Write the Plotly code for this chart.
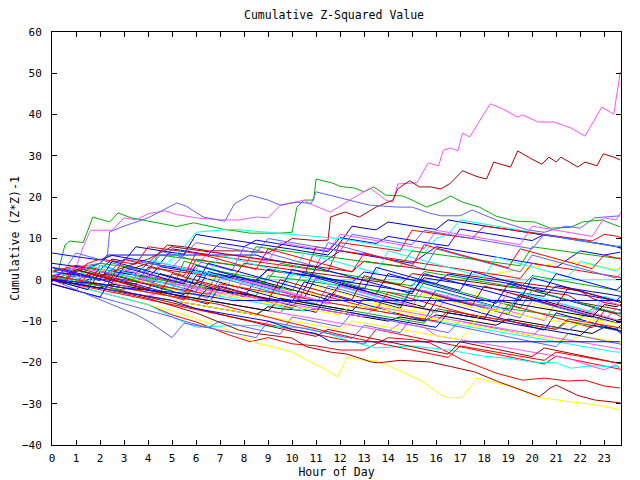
import plotly.graph_objects as go

# ---------------- colours ----------------
RED = "#ff0000"
GREEN = "#00b000"
BLUE = "#0000ff"
NAVY = "#0000b0"
LBLUE = "#6060ff"
MAG = "#ff50ff"
CYAN = "#00ffff"
DRED = "#a80000"
YEL = "#ffff00"
BLK = "#000000"

# half-hour grid used by most series
hours = [h / 2 for h in range(48)] + [23.7]

# ---------------- prominent series (own x) ----------------
mag_top_x = [0, 0.5, 1.0, 1.3, 1.6, 2.5, 3, 3.5, 4, 4.7, 5.2, 6, 7, 7.8, 8.5, 9, 9.5, 10.5, 10.7, 11.6,
             12.4, 13.25, 13.9, 14.2, 14.4, 15.2, 15.67, 16.1, 16.3, 16.6, 16.9, 17.1, 17.4, 18.25, 18.7,
             19.4, 19.6, 20.25, 20.9, 21.6, 22.2, 22.9, 23.4, 23.67]
mag_top_y = [0, 1, 3, 8, 12, 12, 15, 14.5, 16, 16.7, 15.8, 15, 14.5, 14.5, 15.2, 15, 18, 19.3, 18.5, 16.4,
             19.3, 22.2, 19.3, 18.8, 23.2, 23.5, 28.3, 27.6, 31.4, 31.9, 31.2, 35.5, 34.6, 42.6, 41.6,
             39.4, 39.9, 38.2, 38.2, 36.8, 34.8, 41.8, 40.1, 50.3]

dred_top_x = [0, 1, 2, 3, 4, 4.8, 5.5, 6.5, 8, 9, 10, 11, 11.5, 11.6, 12.2, 12.8, 13.5, 14.2, 14.4, 14.9,
              15.3, 15.75, 16.2, 16.6, 17.1, 17.7, 18.1, 18.4, 19.1, 19.4, 19.9, 20.4, 20.7, 21, 21.2,
              21.9, 22.2, 22.7, 22.96, 23.4, 23.67]
dred_top_y = [0, -1, 1, 2, 4, 8.4, 8, 7, 7, 6.5, 10, 9.5, 9.6, 15.2, 16.4, 15.2, 17.6, 19.3, 22, 24,
              22.5, 22.5, 22, 23.4, 26.4, 25, 24.4, 28.5, 27.3, 31.2, 29.5, 28, 29.7, 28.5, 29.7,
              27.3, 28.5, 27.6, 30.5, 29.7, 29]

green_top_x = [0, 0.3, 0.54, 0.75, 1.3, 1.7, 2.4, 2.75, 3.3, 4.4, 5.2, 5.9, 6.6, 7.1, 8.25, 9.5, 10,
               10.2, 10.5, 10.9, 11, 11.5, 11.7, 12, 12.6, 13, 13.4, 13.9, 14.6, 15, 15.6, 16.2, 16.6,
               17.1, 17.8, 18.5, 19.3, 20.1, 20.75, 21.6, 22.1, 22.9, 23.67]
green_top_y = [2, 3, 8.4, 9.4, 9, 15.2, 14, 16.2, 15, 13.8, 12.9, 13.8, 13, 12.3, 11.3, 11.3, 11.5,
               17.6, 19.3, 19.3, 24.4, 23.6, 23.4, 22.6, 22.2, 21.3, 22.5, 20.5, 20.3, 19.3, 17.6, 19,
               20.3, 18.8, 17.6, 15.4, 14.2, 14, 12.5, 12.7, 14, 14.5, 12.8]

lblue_top_x = [0, 1, 2, 2.3, 2.4, 3, 4, 5.2, 5.6, 6.3, 7.2, 7.6, 8.25, 9, 9.5, 10.2, 10.8, 11, 11.9,
               13.2, 14.4, 15, 15.7, 16.2, 17, 17.5, 18.5, 19.8, 20.5, 21.4, 22, 22.6, 23.67]
lblue_top_y = [2, 3, 4, 5.5, 11.6, 13, 15, 18.6, 17.8, 15.2, 14.2, 18.4, 20.5, 19.3, 18.1, 18.8, 18.5,
               21.3, 20, 18.1, 17.6, 17.6, 16.2, 15.5, 15.5, 16.9, 14.5, 12.1, 11.5, 13, 12.5, 15, 15.5]

yel_low_x = [0, 1, 2, 3, 4, 5, 6, 7, 7.8, 8.5, 9.2, 10, 10.6, 11.3, 11.9, 12.3, 12.8, 13.5, 14.4,
             15, 15.4, 16.2, 16.6, 17.1, 17.7, 18.5, 19.4, 20.2, 21, 21.7, 22.7, 23.67]
yel_low_y = [0, -1.5, -3, -4.5, -6, -7.5, -9.5, -11.5, -13.4, -15.3, -16.2, -17.5, -19.4, -21.4, -23.5,
             -18.7, -19.4, -19.6, -21.8, -23.5, -24.5, -27.9, -28.6, -28.4, -23.8, -25, -26.2, -28.4,
             -29.1, -29.6, -30.3, -31.5]

dred_low_x = [0, 2, 4, 6, 7.8, 8.5, 10, 10.6, 11.6, 12.3, 13.3, 13.6, 14.5, 15.75, 16.6, 17.6, 18.6,
              19.5, 20.3, 20.75, 21, 21.4, 21.9, 22.6, 23.4, 23.67]
dred_low_y = [0, -2, -4.5, -8, -12.2, -13, -14.1, -16.2, -17.5, -18, -19.9, -20.1, -19.5, -19.9, -21,
              -22.3, -24.7, -26.6, -28.3, -26.2, -25.5, -26.6, -28, -29.1, -29.6, -29.8]

red_low_x = [0, 2, 4, 5, 6, 7.4, 8.25, 9, 10, 11, 12, 13, 14, 15, 15.75, 17.1, 18.5, 19.6, 20.5, 21.5,
             22.2, 23, 23.67]
red_low_y = [0, -3, -6, -8.5, -10.2, -13.4, -15, -14, -15.5, -16, -17, -17, -14, -14.5, -15.3, -19.4,
             -22.6, -24.3, -23.8, -24.5, -24.3, -25.7, -26.2]

cyan_low_x = [0, 1, 2, 3, 4, 5, 6, 7.8, 9, 10.6, 11.5, 12.5, 13.5, 15, 16.5, 18, 19, 20, 21, 21.6,
              22.5, 23.67]
cyan_low_y = [0, -1.5, -3, -4.5, -6, -9, -11.5, -11, -11.2, -11.7, -13, -15, -16.5, -16, -17, -18.5,
              -19, -19.9, -20.1, -21.4, -20.8, -21.1]

# series with flat (held) stretches
blue_flat6_x = [0, 1, 2, 2.3, 8.5, 9, 10, 11, 12, 13, 14, 15, 16, 17, 18, 19, 20, 21, 22, 23, 23.67]
blue_flat6_y = [1, 2, 4, 6, 6, 5, 4, 3, 7, 6, 5, 4, 8, 7, 6, 5, 4, 3, 7, 6, 6.7]
blue_flat5_x = [0, 1, 2, 3, 4, 5, 6, 7, 7.5, 23.67]
blue_flat5_y = [0, -0.5, -1, -2, -2.5, -3, -3.5, -4.5, -5, -5]
blue_flat15_x = [0, 1, 2, 3, 4, 5, 6, 7, 8, 9, 10, 11, 11.6, 23.67]
blue_flat15_y = [0, -1, -2, -3, -4, -5, -7, -8, -9, -10, -12, -13, -15, -15]
cyan_flat0_x = [0, 0.3, 23.67]
cyan_flat0_y = [1, 0, 0]

# ---------------- filler series on the half-hour grid ----------------
blue_1 = [6.5, 6.0, 5.6, 5.2, 4.8, 5.9, 5.4, 4.9, 4.4, 3.9, 7.5, 7.0, 6.6, 6.1, 8.9, 8.4,
          8.0, 9.6, 9.1, 8.6, 8.2, 7.7, 7.3, 6.8, 10.2, 9.7, 9.3, 8.8, 10.5, 10.0, 9.5, 9.1,
          8.6, 8.2, 12.3, 11.8, 11.4, 10.9, 10.4, 10.0, 9.5, 11.0, 10.5, 10.0, 9.6, 9.1, 8.6, 8.1, 7.6]
blue_2 = [1.0, 0.2, -0.6, -1.4, 3.5, 2.7, 1.9, 1.1, 0.3, -0.5, -1.3, -2.1, -2.9, 2.0, 1.2, 0.4,
          -0.4, -1.2, -2.0, -2.8, -3.6, -4.4, 0.5, -0.3, -1.1, -1.9, -2.7, -3.5, 1.5, 0.7, -0.1, -0.9,
          -1.7, -2.5, -3.3, -4.1, -4.9, -5.7, -1.0, -1.8, -2.6, -3.4, -4.2, -5.0, -5.8, -6.6, -7.4, -8.2, -8.0]
blue_3 = [2.0, 1.6, 1.2, 0.8, 2.5, 2.0, 1.6, 1.1, 0.7, 3.2, 2.7, 2.2, 1.8, 1.3, 0.9, 0.4,
          0.0, -0.4, 2.6, 2.1, 1.7, 1.2, 0.8, 0.3, -0.1, -0.6, 1.9, 1.4, 1.0, 0.5, 0.0, -0.4,
          -0.9, 1.4, 0.9, 0.5, 0.0, -0.4, -0.9, -1.3, -1.8, -2.2, -2.7, -3.1, -3.6, -4.0, -4.5, -5.0, -5.3]
blue_4 = [-1.0, -1.8, -2.6, -3.4, -4.2, 0.5, -0.3, -1.1, -1.9, -2.7, -3.5, -4.3, -5.1, -5.9, -1.5, -2.3,
          -3.1, -3.9, -4.7, -5.5, -6.3, -7.1, -7.9, -3.5, -4.3, -5.1, -5.9, -6.7, -7.5, -8.3, -9.1, -9.9,
          -5.0, -5.8, -6.6, -7.4, -8.2, -9.0, -9.8, -10.6, -11.4, -12.2, -8.0, -8.8, -9.6, -10.4, -11.2, -12.0, -13.0]
blue_5 = [3.0, 2.2, 1.4, 0.6, -0.2, 4.5, 3.7, 2.9, 2.1, 1.3, 0.5, -0.3, -1.1, 4.0, 3.2, 2.4,
          1.6, 0.8, 0.0, -0.8, -1.6, -2.4, 3.0, 2.2, 1.4, 0.6, -0.2, -1.0, -1.8, -2.6, -3.4, 1.5,
          0.7, -0.1, -0.9, -1.7, -2.5, -3.3, -4.1, -4.9, 0.5, -0.3, -1.1, -1.9, -2.7, -3.5, -4.3, -5.1, -4.0]
blue_6 = [-0.5, 2.5, 1.7, 0.9, 0.1, -0.7, 3.0, 2.2, 1.4, 0.6, -0.2, -1.0, 3.5, 2.7, 1.9, 1.1,
          0.3, -0.5, -1.3, -2.1, 2.5, 1.7, 0.9, 0.1, -0.7, -1.5, -2.3, 3.0, 2.2, 1.4, 0.6, -0.2,
          -1.0, -1.8, -2.6, 2.0, 1.2, 0.4, -0.4, -1.2, -2.0, -2.8, 1.5, 0.7, -0.1, -0.9, -1.7, -2.5, -1.5]
navy_1 = [4.0, 3.6, 3.2, 2.8, 2.4, 5.0, 4.5, 8.0, 7.5, 7.1, 6.6, 6.2, 11.0, 10.5, 10.1, 9.6,
          9.2, 8.7, 8.3, 7.8, 7.4, 6.9, 6.5, 6.0, 9.0, 13.0, 12.5, 12.1, 14.0, 13.5, 13.1, 12.6,
          12.2, 14.5, 14.0, 13.5, 13.1, 12.6, 12.2, 11.7, 11.3, 10.8, 10.4, 9.9, 9.5, 9.0, 8.6, 8.1, 7.8]
navy_2 = [0.0, -0.8, -1.6, -2.4, 2.0, 1.2, 0.4, -0.4, -1.2, -2.0, -2.8, -3.6, 1.0, 0.2, -0.6, -1.4,
          -2.2, -3.0, -3.8, -4.6, -5.4, -0.5, -1.3, -2.1, -2.9, -3.7, -4.5, -5.3, -6.1, -6.9, -2.0, -2.8,
          -3.6, -4.4, -5.2, -6.0, -6.8, -7.6, -8.4, -4.0, -4.8, -5.6, -6.4, -7.2, -8.0, -8.8, -9.6, -10.4, -10.3]
navy_3 = [2.0, 1.6, 1.2, 0.7, 0.3, 2.5, 2.1, 1.6, 4.0, 3.5, 3.1, 2.6, 2.2, 1.7, 1.3, 0.8,
          0.4, -0.1, 2.5, 2.0, 1.6, 1.1, 0.7, 0.2, -0.2, -0.7, -1.1, -1.6, -2.0, -2.5, -2.9, 0.5,
          0.0, -0.4, -0.9, -1.3, -1.8, -2.2, -2.7, -3.1, -3.6, -4.0, -1.5, -2.0, -2.4, -2.9, -3.3, -3.8, -4.0]
navy_4 = [1.0, 0.5, 0.0, -0.5, -1.0, -1.5, -2.0, -2.5, -3.0, -3.5, -4.0, -4.5, -5.0, -2.0, -2.5, -3.0,
          -3.5, -4.0, -4.5, -5.0, -5.5, -6.0, -6.5, -7.0, -7.5, -8.0, -8.5, -9.0, -9.5, -10.0, -10.5, -11.0,
          -11.5, -8.0, -8.5, -9.0, -9.5, -10.0, -10.5, -11.0, -11.5, -12.0, -12.5, -13.0, -13.5, -11.0, -11.5, -12.0, -12.5]
lblue_2 = [-1.0, -1.8, -2.6, -3.4, -4.2, -5.0, -5.8, -6.6, -7.4, -8.2, -9.0, -10.0, -10.8, -11.6, -10.0, -10.7,
           -11.4, -12.0, -12.6, -13.2, -9.0, -9.6, -10.2, -10.8, -11.4, -8.0, -8.6, -9.2, -9.8, -10.4, -11.0, -11.6,
           -12.2, -12.8, -10.0, -10.6, -11.2, -11.8, -12.4, -13.0, -13.6, -11.0, -11.6, -12.2, -10.5, -11.1, -11.7, -12.3, -12.5]
lblue_3 = [3.0, 2.2, 6.5, 5.7, 4.9, 4.1, 3.3, 2.5, 1.7, 7.0, 6.2, 5.4, 4.6, 3.8, 3.0, 2.2,
           8.0, 7.2, 6.4, 5.6, 4.8, 4.0, 3.2, 9.0, 8.2, 7.4, 6.6, 5.8, 5.0, 4.2, 3.4, 2.6,
           7.5, 6.7, 5.9, 5.1, 4.3, 3.5, 2.7, 1.9, 6.0, 5.2, 4.4, 3.6, 2.8, 2.0, 1.2, 0.4, 1.6]
lblue_4 = [1.0, 0.2, -0.6, -1.4, -2.2, 2.0, 1.2, 0.4, -0.4, -1.2, -2.0, -2.8, -3.6, -4.4, 0.5, -0.3,
           -1.1, -1.9, -2.7, -3.5, -4.3, -5.1, -5.9, -1.5, -2.3, -3.1, -3.9, -4.7, -5.5, -6.3, -2.0, -2.8,
           -3.6, -4.4, -5.2, -6.0, -6.8, -7.6, -8.4, -9.2, -5.0, -5.8, -6.6, -7.4, -8.2, -9.0, -9.8, -7.0, -7.6]
lblue_5 = [0.0, -1.2, -2.4, -3.6, -4.8, -6.0, -7.2, -8.4, -10.0, -12.0, -14.0, -10.5, -11.0, -11.6, -12.2, -12.8,
           -13.4, -14.0, -10.0, -10.6, -11.2, -11.8, -12.4, -13.0, -13.6, -14.2, -11.0, -11.6, -12.2, -12.8, -9.0, -9.6,
           -10.2, -10.8, -11.4, -12.0, -12.6, -13.2, -13.8, -14.4, -15.0, -15.6, -16.2, -13.0, -13.6, -14.2, -14.8, -15.4, -15.6]
lblue_6 = [0.0, 0.5, 1.0, 0.5, 0.0, 2.5, 5.0, 4.5, 4.0, 3.5, 3.0, 6.0, 9.0, 8.5, 8.0, 7.5,
           7.0, 6.5, 10.0, 9.5, 9.0, 8.5, 8.0, 7.5, 7.0, 11.0, 10.5, 10.0, 9.5, 9.0, 8.5, 12.0,
           11.5, 11.0, 10.5, 10.0, 9.5, 9.0, 8.5, 8.0, 7.5, 11.0, 10.5, 10.0, 9.5, 9.0, 8.5, 8.0, 8.0]
red_2 = [0.0, -0.6, -1.2, -1.8, -2.4, -3.0, -3.6, -4.2, -4.8, -5.4, -6.0, -6.6, -7.2, -7.8, -8.4, -9.0,
         -9.6, -10.2, -10.8, -11.4, -12.0, -12.6, -13.2, -13.8, -14.4, -15.0, -15.6, -12.0, -12.6, -13.2, -13.8, -14.4,
         -15.0, -15.6, -16.2, -16.8, -17.4, -18.0, -18.6, -19.2, -19.8, -20.4, -18.5, -19.1, -19.7, -20.3, -20.9, -21.5, -21.7]
red_3 = [2.0, 2.8, 3.5, 3.0, 2.5, 2.1, 1.6, 1.2, 0.7, 0.3, -0.2, -0.6, 5.0, 4.5, 4.1, 3.6,
         3.2, 2.7, 2.3, 1.8, 1.4, 0.9, 8.0, 7.5, 7.1, 6.6, 6.2, 5.7, 5.3, 4.8, 4.4, 3.9,
         3.5, 3.0, 2.6, 2.1, 1.7, 1.2, 0.8, 0.3, 4.0, 3.5, 3.1, 2.6, 2.2, 1.7, 1.3, 0.8, 0.5]
red_4 = [0.0, 1.0, 2.0, 4.0, 5.0, 4.6, 4.2, 3.8, 8.0, 7.6, 7.2, 6.8, 6.4, 6.0, 5.6, 5.2,
         4.8, 4.4, 4.0, 3.6, 3.2, 2.8, 2.4, 2.0, 9.0, 8.6, 8.2, 7.8, 7.4, 7.0, 12.0, 11.6,
         11.2, 10.8, 10.4, 10.0, 13.0, 12.6, 12.2, 11.8, 11.4, 11.0, 10.6, 10.2, 9.8, 9.4, 11.0, 10.6, 10.2]
red_5 = [-1.0, -1.8, -2.6, 1.5, 0.7, -0.1, -0.9, -1.7, -2.5, -3.3, -4.1, -4.9, -0.5, -1.3, -2.1, -2.9,
         -3.7, -4.5, -5.3, -6.1, -6.9, -2.5, -3.3, -4.1, -4.9, -5.7, -6.5, -7.3, -3.0, -3.8, -4.6, -5.4,
         -6.2, -7.0, -7.8, -8.6, -9.4, -10.2, -6.0, -6.8, -7.6, -8.4, -9.2, -10.0, -10.8, -11.6, -7.5, -8.3, -9.0]
red_6 = [0.5, 0.0, -0.5, 1.5, 1.0, 0.5, 0.0, -0.5, -1.0, -1.5, -2.0, -2.5, -3.0, -3.5, -1.0, -1.5,
         -2.0, -2.5, -3.0, -3.5, -4.0, -4.5, -5.0, -5.5, -6.0, -6.5, -7.0, -7.5, -8.0, -8.5, -9.0, -9.5,
         -10.0, -7.5, -8.0, -8.5, -9.0, -9.5, -10.0, -10.5, -11.0, -11.5, -12.0, -9.5, -10.0, -10.5, -11.0, -11.5, -11.7]
red_7 = [1.0, 0.5, 0.0, -0.5, -1.0, -1.5, -2.0, -2.5, -3.0, -3.5, -4.0, -4.5, -5.0, -5.5, -6.0, -6.8,
         -7.5, -8.2, -9.0, -9.8, -10.5, -11.2, -12.0, -12.7, -13.4, -14.0, -14.6, -15.2, -15.8, -16.4, -17.0, -17.6,
         -18.2, -18.8, -16.0, -16.5, -17.0, -17.5, -18.0, -18.5, -19.0, -19.5, -17.5, -18.0, -18.5, -19.0, -19.5, -20.0, -20.3]
red_8 = [0.5, -0.3, 3.0, 2.2, 1.4, 0.6, 5.0, 4.2, 3.4, 2.6, 1.8, 1.0, 6.5, 5.7, 4.9, 4.1,
         3.3, 2.5, 7.5, 6.7, 5.9, 5.1, 4.3, 3.5, 2.7, 1.9, 6.5, 5.7, 4.9, 4.1, 3.3, 8.5,
         7.7, 6.9, 6.1, 5.3, 4.5, 3.7, 2.9, 7.5, 6.7, 5.9, 5.1, 4.3, 3.5, 2.7, 6.0, 5.2, 5.0]
dred_3 = [0.0, 0.5, 1.0, 0.6, 0.2, -0.2, -0.6, -1.0, 3.0, 2.6, 2.2, 1.8, 1.4, 1.0, 0.6, 0.2,
          4.0, 3.6, 3.2, 2.8, 2.4, 2.0, 1.6, 1.2, 0.8, 0.4, 0.0, -0.4, -0.8, -1.2, 1.5, 1.1,
          0.7, 0.3, -0.1, -0.5, -0.9, -1.3, -1.7, -2.1, -2.5, -2.9, -3.3, -3.7, -5.5, -6.0, -6.5, -7.0, -7.3]
dred_4 = [0.0, -0.5, -1.0, 0.0, 1.0, 2.0, 3.0, 4.0, 5.0, 6.5, 8.0, 7.6, 7.2, 6.8, 6.4, 6.0,
          5.6, 5.2, 4.8, 4.4, 4.0, 3.6, 3.2, 2.8, 2.4, 2.0, 4.5, 4.1, 3.7, 3.3, 2.9, 2.5,
          2.1, 1.7, 1.3, 0.9, 0.5, 0.1, -0.3, -0.7, -1.1, -1.5, -1.9, -2.3, -2.7, -4.5, -5.5, -6.0, -6.3]
dred_5 = [1.0, 0.5, 0.0, -0.7, -1.4, -2.1, -2.8, -3.5, -4.2, -4.9, -5.6, -6.3, -7.0, -7.7, -8.4, -9.1,
          -9.8, -10.5, -11.2, -11.9, -12.5, -13.1, -13.7, -12.0, -12.6, -13.2, -13.8, -14.4, -15.0, -15.6, -16.2, -16.8,
          -17.4, -18.0, -15.0, -15.6, -16.2, -16.8, -17.4, -18.0, -18.6, -16.5, -17.1, -17.7, -18.3, -18.9, -19.5, -20.1, -20.3]
dred_6 = [0.0, -0.8, 2.5, 1.7, 0.9, 0.1, -0.7, -1.5, -2.3, -3.1, 1.5, 0.7, -0.1, -0.9, -1.7, -2.5,
          -3.3, -4.1, -4.9, 0.0, -0.8, -1.6, -2.4, -3.2, -4.0, -4.8, 1.0, 0.2, -0.6, -1.4, -2.2, -3.0,
          -3.8, -4.6, -5.4, -6.2, -1.5, -2.3, -3.1, -3.9, -4.7, -5.5, -6.3, -2.0, -2.8, -3.6, -4.4, -5.2, -5.5]
green_2 = [3.0, 2.6, 2.2, 1.8, 1.4, 1.0, 0.6, 0.2, -0.2, -0.6, -1.0, -1.4, -1.8, -2.2, -2.6, -3.0,
           -3.4, -3.8, 1.0, 0.6, 0.2, -0.2, -0.6, -1.0, -1.4, -1.8, -2.2, -2.6, -3.0, -3.4, -3.8, -4.2,
           -4.6, -5.0, -5.4, -5.8, -6.2, -6.6, -7.0, -7.4, -7.8, -8.2, -8.6, -9.0, -9.4, -7.0, -7.5, -8.0, -8.3]
green_3 = [0.0, -0.5, -1.0, -1.5, -2.0, -1.0, -1.5, -2.0, -2.5, -3.0, -3.5, -4.0, -4.5, -5.0, -5.5, -6.0,
           -6.5, -7.0, -7.5, -8.0, -5.0, -5.5, -6.0, -6.5, -7.0, -7.5, -8.0, -8.5, -9.0, -9.5, -10.0, -10.5,
           -7.0, -7.5, -8.0, -8.5, -9.0, -9.5, -10.0, -10.5, -11.0, -11.5, -12.0, -10.0, -10.5, -11.0, -11.5, -12.0, -12.3]
green_4 = [1.0, 0.2, -0.6, 3.0, 2.2, 1.4, 0.6, -0.2, -1.0, -1.8, -2.6, 4.5, 3.7, 2.9, 2.1, 1.3,
           0.5, -0.3, -1.1, -1.9, -2.7, 2.0, 1.2, 0.4, -0.4, -1.2, -2.0, -2.8, -3.6, -4.4, -5.2, -0.5,
           -1.3, -2.1, -2.9, -3.7, -4.5, -5.3, -6.1, -6.9, -2.5, -3.3, -4.1, -4.9, -5.7, -6.5, -7.3, -8.1, -8.3]
green_5 = [0.0, 0.5, 1.0, 2.5, 4.0, 3.6, 3.2, 2.8, 2.4, 6.0, 5.6, 5.2, 4.8, 4.4, 4.0, 3.6,
           3.2, 8.0, 7.6, 7.2, 6.8, 6.4, 6.0, 5.6, 5.2, 4.8, 4.4, 4.0, 3.6, 3.2, 7.0, 6.6,
           6.2, 5.8, 5.4, 5.0, 4.6, 4.2, 3.8, 3.4, 8.0, 7.6, 7.2, 6.8, 6.4, 6.0, 5.6, 5.2, 5.3]
green_6 = [0.5, 0.0, -0.5, -1.0, -1.5, -2.0, -2.5, 1.0, 0.5, 0.0, -0.5, -1.0, -1.5, -2.0, 2.0, 1.5,
           1.0, 0.5, 0.0, 4.0, 3.5, 3.0, 2.5, 2.0, 1.5, 1.0, 0.5, 0.0, -0.5, -1.0, -1.5, 2.0,
           1.5, 1.0, 0.5, 0.0, -0.5, -1.0, -1.5, -2.0, 1.0, 0.5, 0.0, -0.5, -1.0, -1.5, -2.0, -2.5, -3.0]
mag_2 = [0.0, -0.5, -1.0, 1.0, 2.0, 1.5, 1.0, 0.5, 0.0, 4.0, 3.5, 3.0, 2.5, 7.0, 6.5, 6.0,
         5.5, 5.0, 4.5, 9.0, 8.5, 8.0, 7.5, 7.0, 11.0, 10.5, 10.0, 9.5, 9.0, 8.5, 8.0, 7.5,
         12.0, 11.5, 11.0, 10.5, 10.0, 9.5, 9.0, 8.5, 13.0, 12.5, 12.0, 11.5, 11.0, 10.5, 15.0, 14.5, 16.4]
mag_3 = [0.0, -0.5, -1.0, -1.5, -2.0, -2.5, -3.0, -3.5, -4.0, -3.0, -3.5, -4.0, -4.5, -5.0, -5.5, -6.0,
         -6.5, -7.0, -7.5, -8.0, -8.5, -9.0, -9.5, -10.0, -10.5, -11.0, -11.5, -12.0, -12.5, -10.5, -11.0, -11.5,
         -13.5, -14.0, -14.5, -15.0, -15.5, -16.0, -16.5, -17.0, -17.5, -18.0, -18.5, -19.0, -20.0, -21.0, -21.8, -20.5, -22.0]
mag_4 = [2.0, 1.2, 0.4, -0.4, -1.2, -2.0, 2.5, 1.7, 0.9, 0.1, -0.7, -1.5, -2.3, -3.1, -3.9, 0.5,
         -0.3, -1.1, -1.9, -2.7, -3.5, -4.3, -5.1, -5.9, -1.5, -2.3, -3.1, -3.9, -4.7, -5.5, -6.3, -7.1,
         -7.9, -3.5, -4.3, -5.1, -5.9, -6.7, -7.5, -8.3, -9.1, -9.9, -5.5, -6.3, -7.1, -7.9, -8.7, -9.5, -10.0]
mag_5 = [1.0, 2.0, 3.0, 2.5, 2.0, 1.5, 1.0, 0.5, 0.0, -0.5, -1.0, -1.5, -2.0, -2.5, -3.0, -3.5,
         -4.0, -4.5, -5.0, -5.5, -6.0, -6.5, -7.0, -7.5, -8.0, -8.5, -9.0, -6.5, -7.0, -7.5, -8.0, -8.5,
         -9.0, -9.5, -10.0, -10.5, -11.0, -11.5, -12.0, -12.5, -13.0, -13.5, -14.0, -14.5, -15.0, -15.5, -16.0, -16.5, -16.8]
mag_6 = [-0.5, 2.5, 1.7, 0.9, 0.1, -0.7, -1.5, -2.3, 1.5, 0.7, -0.1, -0.9, -1.7, -2.5, -3.3, -4.1,
         0.0, -0.8, -1.6, -2.4, -3.2, -4.0, -4.8, -5.6, -1.5, -2.3, -3.1, -3.9, -4.7, -5.5, -6.3, -2.5,
         -3.3, -4.1, -4.9, -5.7, -6.5, -7.3, -3.0, -3.8, -4.6, -5.4, -6.2, -7.0, -7.8, -8.6, -5.0, -5.8, -6.5]
cyan_3 = [0.0, 0.5, 1.0, 1.5, 2.0, 1.5, 1.0, 0.5, 0.0, 2.5, 5.0, 8.0, 11.5, 11.8, 12.0, 12.2,
          12.0, 11.8, 11.5, 11.2, 11.0, 10.7, 10.5, 10.2, 10.0, 9.5, 9.0, 8.5, 8.0, 7.5, 7.0, 6.5,
          10.0, 11.0, 14.5, 14.0, 13.5, 13.0, 12.5, 12.0, 11.5, 11.0, 10.5, 10.0, 9.5, 9.0, 8.5, 8.0, 8.5]
cyan_4 = [1.0, 0.5, 0.0, -0.5, -1.0, -1.5, -2.0, -2.5, -3.0, -3.5, -2.0, -2.5, -3.0, -3.5, -4.0, -4.5,
          -5.0, -5.5, -6.0, -6.5, -7.0, -7.5, -5.0, -5.5, -6.0, -6.5, -7.0, -7.5, -8.0, -8.5, -9.0, -9.5,
          -10.0, -10.5, -11.0, -11.5, -12.0, -12.5, -13.0, -13.5, -14.0, -14.5, -15.0, -15.5, -16.0, -16.5, -17.0, -17.5, -17.5]
cyan_5 = [2.0, 1.2, 0.4, -0.4, 3.5, 2.7, 1.9, 1.1, 0.3, -0.5, -1.3, -2.1, 2.5, 1.7, 0.9, 0.1,
          -0.7, -1.5, -2.3, -3.1, 1.5, 0.7, -0.1, -0.9, -1.7, -2.5, -3.3, -4.1, -4.9, -5.7, -1.0, -1.8,
          -2.6, -3.4, -4.2, -5.0, -5.8, -6.6, -7.4, -3.0, -3.8, -4.6, -5.4, -6.2, -7.0, -7.8, -4.0, -4.8, -5.5]
cyan_6 = [1.0, 0.2, -0.6, 3.5, 2.7, 1.9, 1.1, 0.3, 5.0, 4.2, 3.4, 2.6, 1.8, 1.0, 6.0, 5.2,
          4.4, 3.6, 2.8, 2.0, 1.2, 6.5, 5.7, 4.9, 4.1, 3.3, 2.5, 1.7, 7.0, 6.2, 5.4, 4.6,
          3.8, 3.0, 2.2, 1.4, 0.6, 5.5, 4.7, 3.9, 3.1, 2.3, 1.5, 0.7, 4.5, 3.7, 2.9, 2.1, 3.0]
yel_2 = [0.0, -0.5, -1.0, -1.5, -2.0, -1.0, -1.5, -2.0, -2.5, -3.0, -3.5, -4.0, -4.5, -3.0, -3.5, -4.0,
         -4.5, -5.0, -5.5, -2.0, -2.5, -3.0, -3.5, -4.0, -4.5, -5.0, -5.5, -6.0, -6.5, -7.0, -7.5, -8.0,
         -4.0, -4.5, -5.0, -5.5, 1.0, 1.5, 2.0, 2.5, 3.0, 3.5, 4.0, 4.5, 4.0, 3.5, 3.0, 2.5, 2.9]
yel_3 = [0.0, -0.5, -1.0, -1.5, -2.0, -2.5, -3.0, -3.5, -4.0, -4.5, -5.0, -5.5, -6.0, -6.5, -7.0, -7.5,
         -8.0, -8.5, -9.0, -9.5, -10.0, -10.5, -11.0, -11.5, -12.0, -10.0, -10.5, -11.0, -11.5, -12.0, -12.5, -13.0,
         -13.5, -14.0, -14.5, -11.0, -11.5, -12.0, -12.5, -13.0, -13.5, -14.0, -14.5, -15.0, -13.5, -14.0, -14.5, -15.0, -15.2]
yel_4 = [1.0, 0.2, -0.6, -1.4, 2.5, 1.7, 0.9, 0.1, -0.7, -1.5, -2.3, -3.1, -3.9, 0.5, -0.3, -1.1,
         -1.9, -2.7, -3.5, -4.3, -5.1, -5.9, -1.5, -2.3, -3.1, -3.9, -4.7, -5.5, -6.3, -7.1, -7.9, -3.5,
         -4.3, -5.1, -5.9, -6.7, -7.5, -8.3, -4.0, -4.8, -5.6, -6.4, -7.2, -8.0, -8.8, -9.6, -10.4, -11.2, -11.7]
yel_5 = [0.0, 0.5, 0.0, -0.5, -1.0, -1.5, -2.0, -2.5, -3.0, -3.5, -4.0, -4.5, -5.0, -5.5, -3.5, -4.0,
         -4.5, -5.0, -5.5, -6.0, -6.5, -7.0, -7.5, -8.0, -8.5, -6.0, -6.5, -7.0, -7.5, -8.0, -8.5, -9.0,
         -9.5, -10.0, -10.5, -11.0, -7.0, -7.5, -8.0, -8.5, -9.0, -9.5, -10.0, -10.5, -11.0, -9.5, -10.0, -10.5, -11.0]
blk_1 = [0.0, -0.5, -1.0, -1.5, -2.0, -2.5, -3.0, -3.5, -4.0, -4.5, -5.0, -5.5, -6.0, -6.5, -7.0, -7.5,
         -8.0, -8.5, -6.5, -7.0, -7.2, -7.5, -7.0, -7.5, -8.0, -8.5, -9.0, -9.5, -10.0, -9.0, -9.5, -10.0,
         -8.5, -9.0, -9.5, -10.0, -10.5, -11.0, -9.5, -10.0, -10.5, -11.0, -11.5, -12.0, -12.5, -13.0, -11.5, -12.0, -11.0]
blk_2 = [0.0, -0.8, 2.5, 1.7, 0.9, 0.1, -0.7, -1.5, -2.3, 1.5, 0.7, -0.1, -0.9, -1.7, -2.5, -3.3,
         -4.1, 0.0, -0.8, -1.6, -2.4, -3.2, -4.0, -4.8, -1.0, -1.8, -2.6, -3.4, -4.2, -5.0, -5.8, -6.6,
         -2.5, -3.3, -4.1, -4.9, -5.7, -6.5, -7.3, -3.5, -4.3, -5.1, -5.9, -6.7, -7.5, -8.3, -9.1, -9.9, -9.5]
blk_3 = [0.0, -0.5, -1.0, -1.5, -2.0, -1.0, -1.5, -2.0, -2.5, -3.0, -3.5, -4.0, -4.5, -5.0, -5.5, -6.0,
         -6.5, -7.0, -7.5, -4.5, -5.0, -5.5, -6.0, -6.5, -7.0, -7.5, -4.5, -5.0, -5.5, -6.0, -6.5, -7.0,
         -7.5, -8.0, -8.5, -9.0, -9.5, -5.0, -5.5, -6.0, -6.5, -7.0, -7.5, -8.0, -8.5, -9.0, -6.0, -6.5, -6.0]

series = [
    (RED, red_low_x, red_low_y),
    (GREEN, green_top_x, green_top_y),
    (BLUE, blue_flat6_x, blue_flat6_y),
    (MAG, mag_top_x, mag_top_y),
    (CYAN, cyan_flat0_x, cyan_flat0_y),
    (DRED, dred_top_x, dred_top_y),
    (YEL, yel_low_x, yel_low_y),
    (BLK, hours, blk_1),
    (LBLUE, lblue_top_x, lblue_top_y),
    (NAVY, hours, navy_1),
    (RED, hours, red_2),
    (GREEN, hours, green_2),
    (BLUE, hours, blue_1),
    (MAG, hours, mag_2),
    (CYAN, cyan_low_x, cyan_low_y),
    (DRED, dred_low_x, dred_low_y),
    (YEL, hours, yel_2),
    (BLK, hours, blk_2),
    (LBLUE, hours, lblue_2),
    (NAVY, hours, navy_2),
    (RED, hours, red_3),
    (GREEN, hours, green_3),
    (BLUE, hours, blue_2),
    (MAG, hours, mag_3),
    (CYAN, hours, cyan_3),
    (DRED, hours, dred_3),
    (YEL, hours, yel_3),
    (LBLUE, hours, lblue_3),
    (NAVY, hours, navy_3),
    (RED, hours, red_4),
    (GREEN, hours, green_4),
    (BLUE, hours, blue_3),
    (MAG, hours, mag_4),
    (CYAN, hours, cyan_4),
    (DRED, hours, dred_4),
    (YEL, hours, yel_4),
    (LBLUE, hours, lblue_4),
    (BLK, hours, blk_3),
    (RED, hours, red_5),
    (GREEN, hours, green_5),
    (BLUE, hours, blue_4),
    (MAG, hours, mag_5),
    (CYAN, hours, cyan_5),
    (DRED, hours, dred_5),
    (LBLUE, hours, lblue_5),
    (NAVY, hours, navy_4),
    (RED, hours, red_6),
    (GREEN, hours, green_6),
    (BLUE, hours, blue_5),
    (MAG, hours, mag_6),
    (CYAN, hours, cyan_6),
    (DRED, hours, dred_6),
    (YEL, hours, yel_5),
    (LBLUE, hours, lblue_6),
    (RED, hours, red_7),
    (BLUE, hours, blue_6),
    (RED, hours, red_8),
    (BLUE, blue_flat5_x, blue_flat5_y),
    (BLUE, blue_flat15_x, blue_flat15_y),
]

fig = go.Figure()
for color, xs, ys in series:
    n = min(len(xs), len(ys))
    fig.add_trace(go.Scatter(x=xs[:n], y=ys[:n], mode="lines",
                             line=dict(color=color, width=1), hoverinfo="skip"))

FONT = "DejaVu Sans Mono"
axis_common = dict(showline=True, linecolor="black", linewidth=1, mirror="ticks",
                   ticks="inside", ticklen=5, tickcolor="black", showgrid=False,
                   zeroline=False, automargin=False,
                   tickfont=dict(family=FONT, size=11, color="black"))

# the page body adds an 8px offset, so the figure is 8px smaller on each axis
FIG_W, FIG_H = 632, 472
fig.update_layout(
    width=FIG_W, height=FIG_H, autosize=False,
    margin=dict(l=44, r=19, t=24, b=35),
    paper_bgcolor="white", plot_bgcolor="white",
    showlegend=False,
    title=dict(text="Cumulative Z-Squared Value", x=326 / FIG_W, xanchor="center",
               y=1 - 7 / FIG_H, yanchor="middle", automargin=False,
               font=dict(family=FONT, size=11.5, color="black")),
    xaxis=dict(range=[0, 23.7], tickvals=list(range(24)),
               title=dict(text="Hour of Day", standoff=3,
                          font=dict(family=FONT, size=11.5, color="black")),
               ticklabelstandoff=3, **axis_common),
    yaxis=dict(range=[-40, 60], dtick=10, tick0=0,
               title=dict(text="Cumulative (Z*Z)-1", standoff=4,
                          font=dict(family=FONT, size=11.5, color="black")),
               ticklabelstandoff=7, **axis_common),
)

fig.write_html("out.html")
